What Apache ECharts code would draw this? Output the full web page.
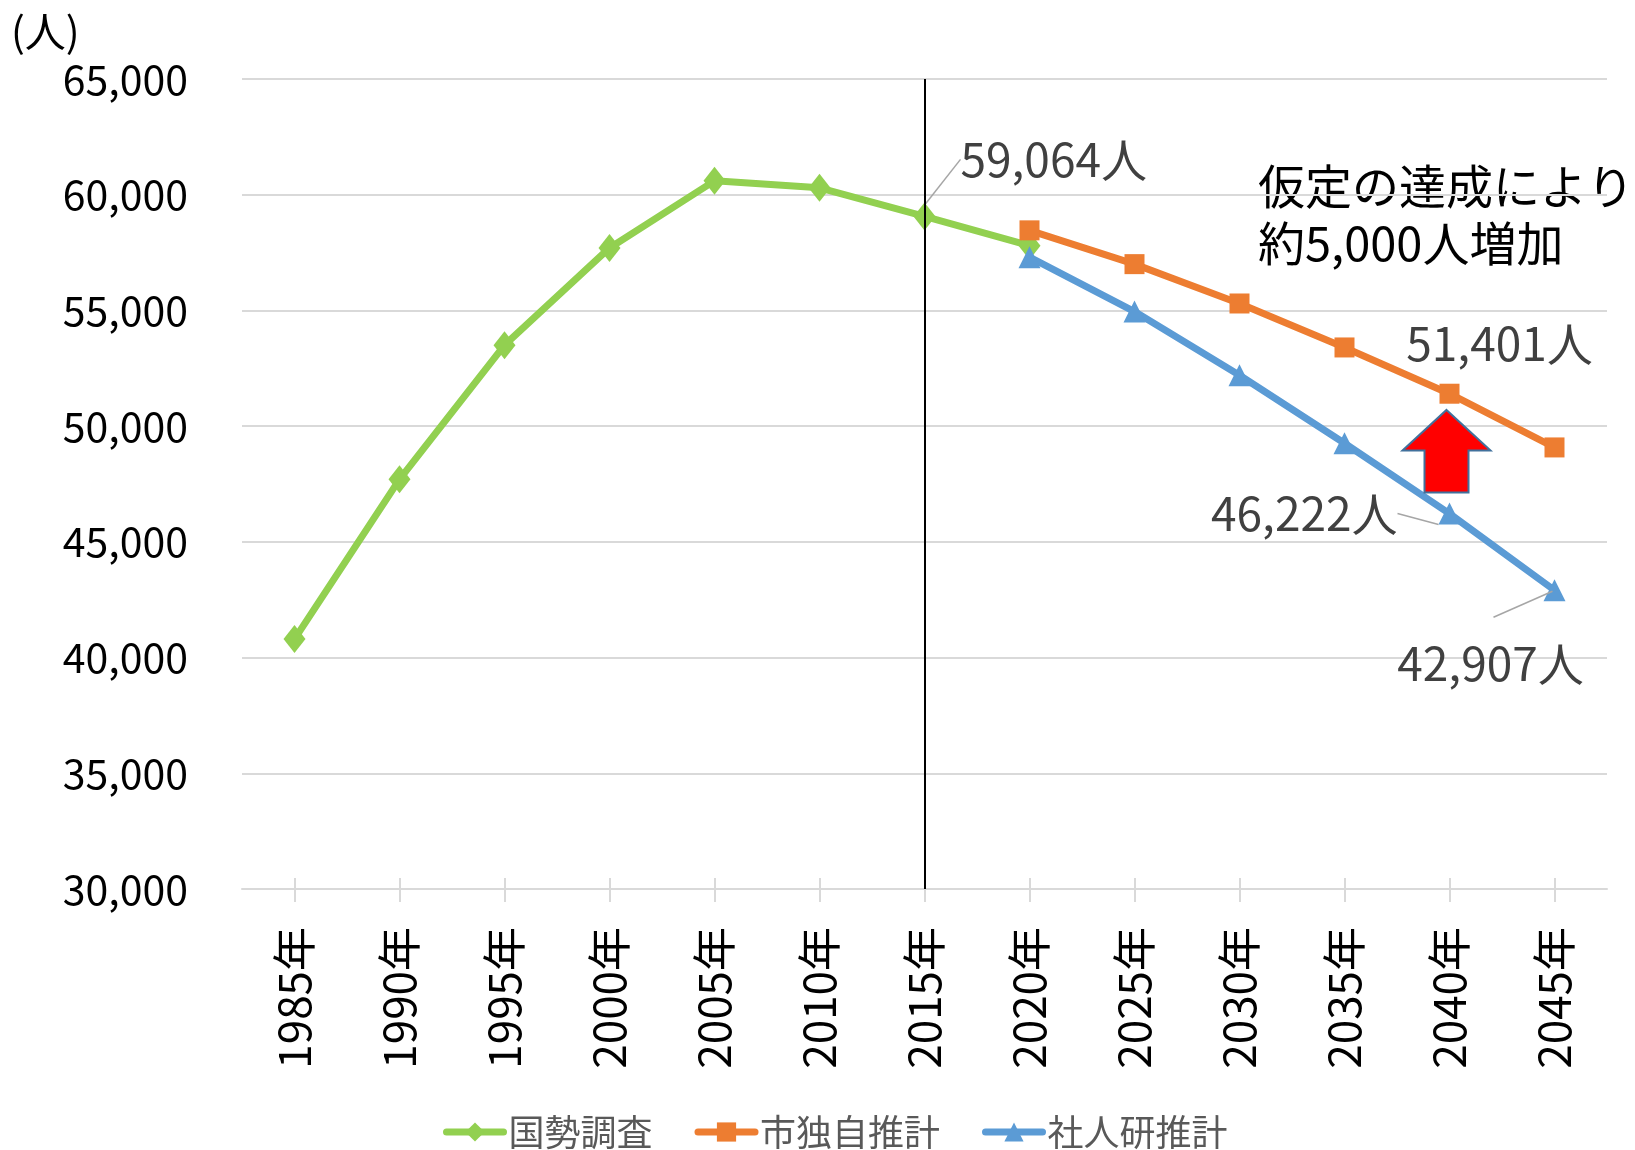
<!DOCTYPE html>
<html>
<head>
<meta charset="utf-8">
<script src="https://cdn.jsdelivr.net/npm/echarts@6/dist/echarts.min.js"></script>
<style>
html, body { margin: 0; padding: 0; background: #fff; }
#main { width: 1635px; height: 1150px; }
</style>
</head>
<body>
<div id="main"></div>
<script>
// 人口推移（国勢調査）と将来推計
var years = ['1985年', '1990年', '1995年', '2000年', '2005年', '2010年', '2015年',
    '2020年', '2025年', '2030年', '2035年', '2040年', '2045年'];
var census = [40800, 47700, 53500, 57700, 60600, 60300, 59064, 57800, null, null, null, null, null];
var cityEst = [null, null, null, null, null, null, null, 58460, 57000, 55300, 53400, 51401, 49080];
var ipssEst = [null, null, null, null, null, null, null, 57300, 54950, 52200, 49260, 46222, 42907];
var seriesNames = ['国勢調査', '市独自推計', '社人研推計'];
var yMin = 30000, yMax = 65000, yStep = 5000;
var note = ['仮定の達成により', '約5,000人増加'];

var FONT = '"Noto Sans CJK JP", "Noto Sans", sans-serif';
var labelColor = '#404040';
var guideColor = '#a6a6a6';
var guide = { show: true, lineStyle: { color: guideColor, width: 1.5 } };

function fmt(v) {
    return v.toLocaleString('en-US');
}

// 値の配列から data を作り、指定した点にだけラベルを付ける
function withLabels(values, labels) {
    return values.map(function (v, i) {
        if (v == null || !labels[i]) return v;
        return {
            value: v,
            label: Object.assign({ show: true, formatter: fmt(v) + '人' }, labels[i].label),
            labelLine: labels[i].line ? guide : { show: false }
        };
    });
}

// ラベルのずらし量 [dx, dy]（系列ごと、dataIndex ごと）
var shifts = [
    { 6: [20, -57] },
    { 11: [50, -12] },
    { 11: [-36, 0], 12: [-64, 34] }
];

var chart = echarts.init(document.getElementById('main'));

var option = {
    backgroundColor: '#fff',
    textStyle: { fontFamily: FONT },
    animation: false,
    grid: { left: 242, right: 28, top: 79, bottom: 261, outerBoundsMode: 'none' },
    legend: {
        data: seriesNames,
        top: 1114,
        left: 443,
        padding: 0,
        itemWidth: 57,
        itemHeight: 24,
        itemGap: 42,
        lineStyle: { width: 7, cap: 'round' },
        textStyle: { fontSize: 36, color: '#595959', fontFamily: FONT }
    },
    xAxis: [{
        type: 'category',
        data: years,
        boundaryGap: true,
        axisLine: { lineStyle: { color: '#d9d9d9', width: 2 } },
        axisTick: { show: true, alignWithLabel: true, length: 13, lineStyle: { color: '#d9d9d9', width: 2 } },
        axisLabel: { rotate: 90, margin: 38, fontSize: 44, color: '#000', fontFamily: FONT }
    }, {
        // 軸線をまたぐ目盛の上半分
        type: 'category',
        data: years,
        position: 'bottom',
        boundaryGap: true,
        axisLine: { show: false },
        axisTick: { show: true, inside: true, alignWithLabel: true, length: 11, lineStyle: { color: '#d9d9d9', width: 2 } },
        axisLabel: { show: false },
        splitLine: { show: false }
    }],
    yAxis: {
        type: 'value',
        min: yMin,
        max: yMax,
        interval: yStep,
        axisLine: { show: false },
        axisTick: { show: false },
        splitLine: { lineStyle: { color: '#d9d9d9', width: 2 } },
        axisLabel: { margin: 54, fontSize: 41, color: '#000', fontFamily: FONT, formatter: fmt }
    },
    series: [
        {
            name: seriesNames[0],
            type: 'line',
            data: withLabels(census, { 6: { label: { position: 'right' }, line: true } }),
            symbol: 'diamond',
            symbolSize: [22, 28],
            lineStyle: { width: 7, color: '#92d050' },
            itemStyle: { color: '#92d050' },
            label: { show: false, fontSize: 46, color: labelColor, fontFamily: FONT },
            labelLayout: function (p) {
                var s = shifts[0][p.dataIndex];
                return s ? { dx: s[0], dy: s[1] } : {};
            },
            markLine: {
                silent: true,
                symbol: 'none',
                label: { show: false },
                lineStyle: { color: '#000', width: 2, type: 'solid' },
                data: [{ xAxis: '2015年' }]
            },
            z: 2
        },
        {
            name: seriesNames[1],
            type: 'line',
            data: withLabels(cityEst, { 11: { label: { position: 'top' }, line: false } }),
            symbol: 'rect',
            symbolSize: 20,
            lineStyle: { width: 7, color: '#ed7d31' },
            itemStyle: { color: '#ed7d31' },
            label: { show: false, fontSize: 46, color: labelColor, fontFamily: FONT },
            labelLayout: function (p) {
                var s = shifts[1][p.dataIndex];
                return s ? { dx: s[0], dy: s[1] } : {};
            },
            z: 3
        },
        {
            name: seriesNames[2],
            type: 'line',
            data: withLabels(ipssEst, {
                11: { label: { position: 'left' }, line: true },
                12: { label: { position: 'bottom' }, line: false }
            }),
            symbol: 'triangle',
            symbolSize: 22,
            lineStyle: { width: 7, color: '#5b9bd5' },
            itemStyle: { color: '#5b9bd5' },
            label: { show: false, fontSize: 46, color: labelColor, fontFamily: FONT },
            labelLayout: function (p) {
                var s = shifts[2][p.dataIndex];
                return s ? { dx: s[0], dy: s[1] } : {};
            },
            z: 4
        }
    ],
    graphic: [
        {
            id: 'unit',
            type: 'text',
            left: 11,
            top: 11,
            style: { text: '(人)', fontSize: 41, fill: '#000', fontFamily: FONT }
        },
        {
            id: 'note',
            type: 'text',
            left: 1258,
            top: 158,
            style: { text: note.join('\n'), fontSize: 47, lineHeight: 57, fill: '#000', fontFamily: FONT }
        }
    ]
};

chart.setOption(option);

// 上向き矢印（2040年、二つの推計の間）と 42,907人 の引出線
function drawExtras() {
    var tip = chart.convertToPixel({ gridIndex: 0 }, ['2040年', 50700]);
    var neck = chart.convertToPixel({ gridIndex: 0 }, ['2040年', 48950]);
    var foot = chart.convertToPixel({ gridIndex: 0 }, ['2040年', 47130]);
    var last = chart.convertToPixel({ gridIndex: 0 }, ['2045年', ipssEst[12]]);
    var cx = tip[0] - 3, head = 44, shaft = 22;
    chart.setOption({
        graphic: [{
            id: 'arrow',
            type: 'polygon',
            z: 10,
            shape: {
                points: [
                    [cx, tip[1]],
                    [cx + head, neck[1]],
                    [cx + shaft, neck[1]],
                    [cx + shaft, foot[1]],
                    [cx - shaft, foot[1]],
                    [cx - shaft, neck[1]],
                    [cx - head, neck[1]]
                ]
            },
            style: { fill: '#ff0000', stroke: '#41719c', lineWidth: 2 }
        }, {
            id: 'guide45',
            type: 'line',
            z: 5,
            shape: { x1: last[0] - 61, y1: last[1] + 27, x2: last[0] - 2, y2: last[1] + 1 },
            style: { stroke: guideColor, lineWidth: 1.5 }
        }]
    });
}
drawExtras();
</script>
</body>
</html>
